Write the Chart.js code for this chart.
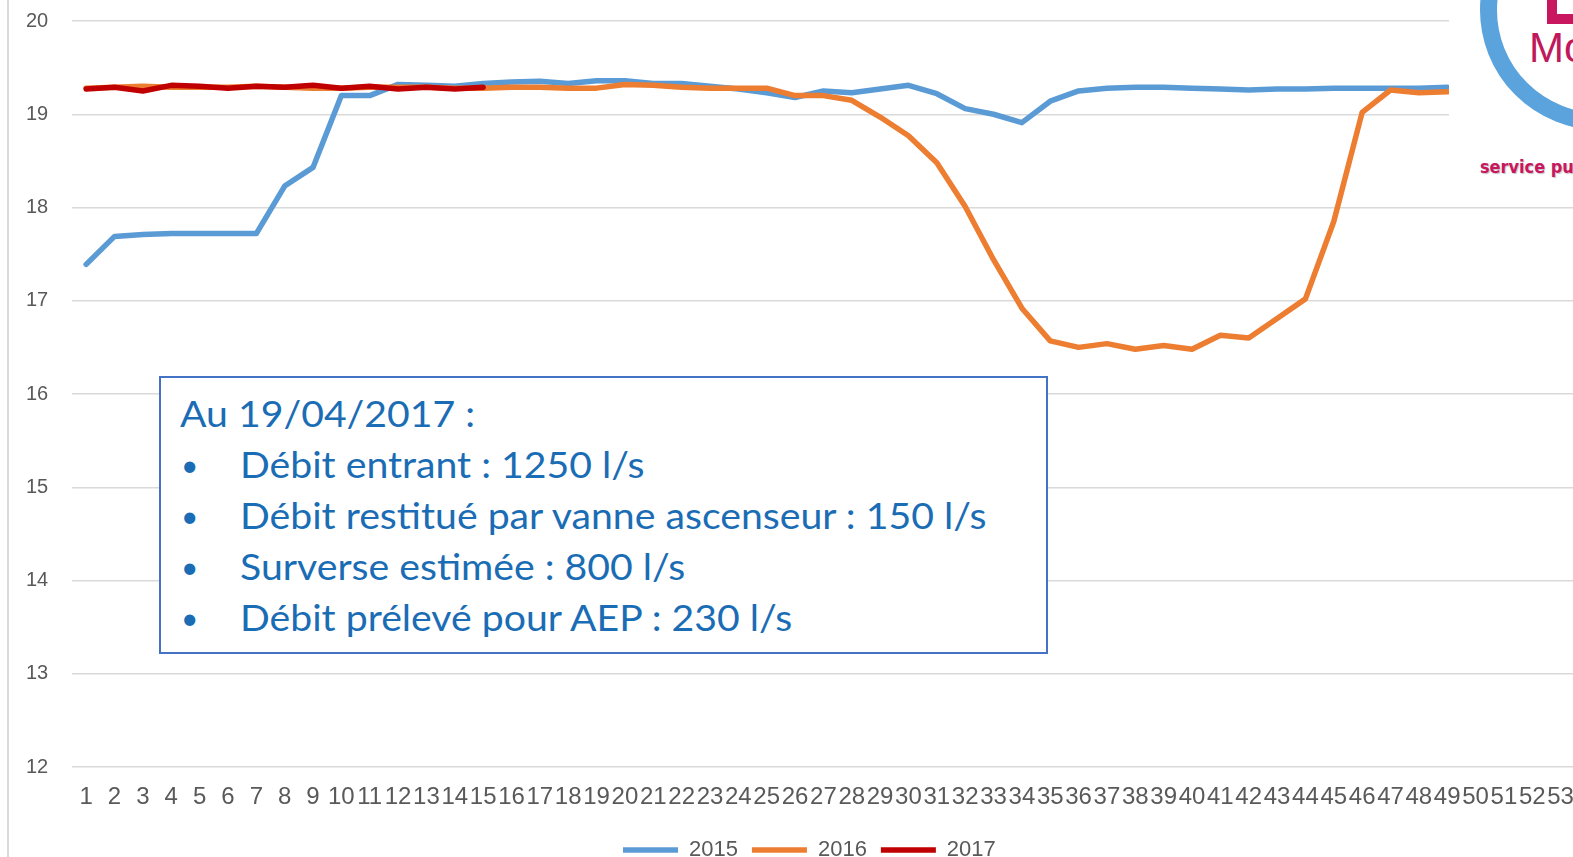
<!DOCTYPE html>
<html>
<head>
<meta charset="utf-8">
<script src="https://cdn.jsdelivr.net/npm/chart.js@4.4.1/dist/chart.umd.min.js"></script>
<style>
html, body { margin: 0; padding: 0; background: #fff; overflow: hidden; }
#wrap { position: relative; width: 1573px; height: 857px; overflow: hidden; background: #fff; }
#posChart { position: absolute; left: 0; top: 0; }
#edge { position: absolute; left: 7px; top: 0; width: 2px; height: 857px; background: #dadada; }
#note { position: absolute; left: 159px; top: 376px; width: 885px; height: 274px; border: 2px solid #4472c4; background: #fff; color: #1a6db5; font-family: Lato, 'Open Sans', sans-serif; font-size: 36px; }
#note .ln { position: absolute; height: 50px; line-height: 50px; white-space: nowrap; transform-origin: 0 50%; }
#note .bul { position: absolute; height: 50px; line-height: 50px; font-size: 30px; }
#logo { position: absolute; left: 1449px; top: 0; width: 124px; height: 192px; background: #fff; overflow: hidden; }
#ring { position: absolute; left: 31px; top: -110px; width: 240px; height: 240px; border-radius: 50%; border: 17px solid #5aa3dc; box-sizing: border-box; }
#mark { position: absolute; left: 98px; top: -22px; width: 40px; height: 36px; border-left: 10px solid #c8175f; border-bottom: 10px solid #c8175f; }
#mo { position: absolute; left: 80px; top: 27px; font: 42px/1 'Liberation Sans', sans-serif; color: #c0185c; }
#sp { position: absolute; left: 31px; top: 159px; font: bold 17px/1 'DejaVu Sans', sans-serif; color: #c8175f; text-shadow: 1px 1px 1px rgba(0,0,0,.25); transform: scaleX(0.95); transform-origin: 0 50%; white-space: nowrap; }
</style>
</head>
<body>
<div id="wrap">
  <canvas id="posChart" width="1590" height="880"></canvas>
  <div id="edge"></div>
  <div id="note">
    <div class="ln" style="left:19px;top:10px">Au 19/04/2017 :</div>
    <div class="bul" style="left:20px;top:61px">•</div>
    <div class="ln" style="left:79px;top:61px">Débit entrant : 1250 l/s</div>
    <div class="bul" style="left:20px;top:112px">•</div>
    <div class="ln" style="left:79px;top:112px">Débit restitué par vanne ascenseur : 150 l/s</div>
    <div class="bul" style="left:20px;top:163px">•</div>
    <div class="ln" style="left:79px;top:163px">Surverse estimée : 800 l/s</div>
    <div class="bul" style="left:20px;top:214px">•</div>
    <div class="ln" style="left:79px;top:214px">Débit prélevé pour AEP : 230 l/s</div>
  </div>
  <div id="logo">
    <div id="ring"></div>
    <div id="mark"></div>
    <div id="mo">Mo</div>
    <div id="sp">service pu</div>
  </div>
</div>
<script>
// semaines 1..53
var WEEKS = ['1','2','3','4','5','6','7','8','9','10','11','12','13','14','15','16','17','18','19','20',
  '21','22','23','24','25','26','27','28','29','30','31','32','33','34','35','36','37','38','39','40',
  '41','42','43','44','45','46','47','48','49','50','51','52','53'];

var Y2015 = [17.39,17.69,17.71,17.72,17.72,17.72,17.72,18.23,18.43,19.20,
  19.20,19.32,19.31,19.30,19.33,19.345,19.355,19.33,19.36,19.36,
  19.33,19.33,19.30,19.27,19.23,19.18,19.25,19.23,19.27,19.31,
  19.22,19.06,19.00,18.91,19.14,19.25,19.28,19.29,19.29,19.28,
  19.27,19.26,19.27,19.27,19.28,19.28,19.28,19.28,19.29];

var Y2016 = [19.28,19.29,19.30,19.29,19.29,19.29,19.30,19.29,19.28,19.28,
  19.29,19.29,19.29,19.28,19.28,19.29,19.29,19.28,19.28,19.32,
  19.31,19.29,19.28,19.28,19.28,19.20,19.20,19.15,18.97,18.77,
  18.48,18.01,17.44,16.92,16.57,16.50,16.54,16.48,16.52,16.48,
  16.63,16.60,16.81,17.02,17.85,19.02,19.26,19.23,19.24];

var Y2017 = [19.27,19.29,19.25,19.31,19.30,19.28,19.30,19.29,19.31,19.28,
  19.30,19.27,19.29,19.27,19.29];

var Y_MIN = 12, Y_MAX = 20, Y_STEP = 1;

var SERIES = [
  {label: '2015', data: Y2015, color: '#5b9bd5', order: 3},
  {label: '2016', data: Y2016, color: '#ed7d31', order: 2},
  {label: '2017', data: Y2017, color: '#c00000', order: 1}
];

var FONT = "'Liberation Sans', sans-serif";

// petit decalage de la legende vers la gauche, comme sur la diapo
var legendShift = {
  id: 'legendShift',
  afterLayout: function(chart) {
    if (!chart.legend) return;
    chart.legend.left -= 14;
    chart.legend.right -= 14;
  }
};

function initChart() {
  var ctx = document.getElementById('posChart');
  new Chart(ctx, {
    type: 'line',
    data: {
      labels: WEEKS,
      datasets: SERIES.map(function(s) {
        return {
          label: s.label,
          data: s.data,
          order: s.order,
          borderColor: s.color,
          backgroundColor: s.color,
          borderWidth: 5.5,
          borderCapStyle: 'round',
          borderJoinStyle: 'round',
          tension: 0,
          pointRadius: 0,
          fill: false
        };
      })
    },
    options: {
      responsive: false,
      animation: false,
      layout: { padding: { top: 21, left: 26, right: 3, bottom: 9 } },
      scales: {
        x: {
          offset: true,
          grid: { display: false, drawTicks: false },
          border: { display: false },
          afterFit: function(s) { s.height = 58; },
          ticks: {
            autoSkip: false, maxRotation: 0, minRotation: 0, padding: 16,
            color: '#595959', font: { family: FONT, size: 24 }
          }
        },
        y: {
          min: Y_MIN, max: Y_MAX,
          afterFit: function(s) { s.width = 46; },
          grid: { color: '#d9d9d9', lineWidth: 1.5, drawTicks: false },
          border: { display: false },
          ticks: {
            stepSize: Y_STEP, padding: 0, crossAlign: 'far',
            color: '#595959', font: { family: FONT, size: 20 }
          }
        }
      },
      plugins: {
        legend: {
          position: 'bottom',
          fullSize: false,
          labels: {
            usePointStyle: true,
            pointStyle: 'line',
            pointStyleWidth: 55,
            padding: 14,
            color: '#595959',
            font: { family: FONT, size: 22 },
            sort: function(a, b) { return a.datasetIndex - b.datasetIndex; }
          }
        },
        tooltip: { enabled: false }
      }
    },
    plugins: [legendShift]
  });
}

function fitNote() {
  // la ligne la plus longue fait ~746px dans l'original
  var lines = document.querySelectorAll('#note .ln');
  var widest = 0;
  lines.forEach(function(l) { widest = Math.max(widest, l.scrollWidth); });
  var k = 746 / widest;
  lines.forEach(function(l) { l.style.transform = 'scaleX(' + k + ')'; });
}

initChart();
fitNote();
</script>
</body>
</html>
